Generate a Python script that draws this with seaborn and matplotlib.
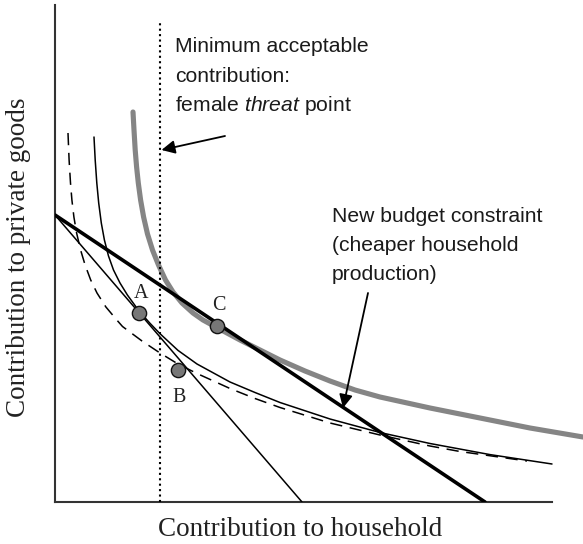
import matplotlib
matplotlib.use("Agg")
import matplotlib.pyplot as plt
import seaborn as sns

# ---- data (in arbitrary units) ----
# thick gray indifference curve (after cheaper household production)
gray_x = [1.56, 1.58, 1.604, 1.632, 1.666, 1.712, 1.772, 1.85, 1.95, 2.07, 2.21, 2.36,
          2.54, 2.76, 2.96, 3.18, 3.70, 4.10, 4.50, 5.00, 5.50, 6.00, 6.50, 7.50, 8.50,
          9.50, 10.56]
gray_y = [7.80, 7.44, 7.04, 6.70, 6.38, 6.04, 5.70, 5.36, 5.04, 4.74, 4.44, 4.20,
          3.98, 3.78, 3.64, 3.52, 3.24, 3.04, 2.84, 2.62, 2.42, 2.24, 2.10, 1.88, 1.68,
          1.48, 1.30]
# thin solid indifference curve
thin_x = [0.78, 0.804, 0.836, 0.874, 0.926, 0.988, 1.07, 1.17, 1.30, 1.448, 1.68, 1.90,
          2.10, 2.46, 2.84, 3.50, 4.00, 4.50, 5.50, 6.50, 7.50, 8.70, 9.94]
thin_y = [7.30, 6.84, 6.38, 5.98, 5.58, 5.24, 4.92, 4.64, 4.38, 4.14, 3.82, 3.574,
          3.366, 3.032, 2.76, 2.40, 2.19, 1.99, 1.66, 1.39, 1.17, 0.948, 0.76]
# dashed indifference curve
dash_x = [0.26, 0.282, 0.31, 0.338, 0.378, 0.432, 0.512, 0.602, 0.714, 0.84, 1.018, 1.236,
          1.35, 1.74, 2.10, 2.46, 2.84, 3.50, 4.00, 4.50, 5.50, 6.50, 7.50, 8.10, 9.44]
dash_y = [7.38, 6.84, 6.38, 6.04, 5.70, 5.38, 5.04, 4.74, 4.44, 4.18, 3.90, 3.64,
          3.51, 3.22, 2.98, 2.76, 2.57, 2.27, 2.07, 1.89, 1.58, 1.34, 1.12, 1.01, 0.82]
# budget constraints
old_budget_x = [0.0, 4.94]
old_budget_y = [5.74, 0.0]
new_budget_x = [0.0, 8.60]
new_budget_y = [5.74, 0.0]
# female threat point (minimum acceptable contribution)
threat_x = [2.10, 2.10]
threat_y = [0.0, 9.60]
# equilibrium points
point_labels = ["A", "B", "C"]
point_x = [1.68, 2.46, 3.24]
point_y = [3.78, 2.64, 3.52]

x_label = "Contribution to household"
y_label = "Contribution to private goods"

# ---- style ----
sns.set_theme(style="white")
plt.rcParams["font.family"] = ["Liberation Sans", "DejaVu Sans"]
plt.rcParams["mathtext.fontset"] = "custom"
plt.rcParams["mathtext.rm"] = "Liberation Sans"
plt.rcParams["mathtext.it"] = "Liberation Sans:italic"

fig = plt.figure(figsize=(5.83, 5.44), dpi=100)
ax = fig.add_axes([55 / 583, 42 / 544, 528 / 583, 497 / 544])

sns.lineplot(x=dash_x, y=dash_y, ax=ax, color="black", lw=1.1,
             linestyle=(0, (8, 5)), sort=False, estimator=None, zorder=2)
sns.lineplot(x=thin_x, y=thin_y, ax=ax, color="black", lw=1.1,
             sort=False, estimator=None, zorder=2)
sns.lineplot(x=gray_x, y=gray_y, ax=ax, color="#858585", lw=3.7,
             sort=False, estimator=None, zorder=3, clip_on=False)
sns.lineplot(x=old_budget_x, y=old_budget_y, ax=ax, color="black", lw=1.1,
             sort=False, estimator=None, zorder=4)
sns.lineplot(x=new_budget_x, y=new_budget_y, ax=ax, color="black", lw=2.6,
             sort=False, estimator=None, zorder=4)
sns.lineplot(x=threat_x, y=threat_y, ax=ax, color="black", lw=1.5,
             linestyle=(0, (1, 1.6)), sort=False, estimator=None, zorder=4)

sns.scatterplot(x=point_x, y=point_y, ax=ax, s=105, color="#777777",
                edgecolor="#111111", linewidth=1.0, zorder=6)

label_offsets = [(2, 20), (1, -28), (2, 21)]
for lab, px, py, off in zip(point_labels, point_x, point_y, label_offsets):
    ax.annotate(lab, (px, py), xytext=off, textcoords="offset pixels",
                ha="center", va="center", fontsize=14.5,
                family="Liberation Serif", color="#222222")

# annotations
txt_kw = dict(fontsize=15.2, color="#1a1a1a", ha="left", va="baseline")
ax.text(2.40, 9.00, "Minimum acceptable", **txt_kw)
ax.text(2.40, 8.40, "contribution:", **txt_kw)
ax.text(2.40, 7.82, r"female $\mathit{threat}$ point", **txt_kw)
ax.annotate("", xy=(2.13, 7.04), xytext=(3.40, 7.32),
            arrowprops=dict(arrowstyle="-|>", color="black", lw=1.3,
                            mutation_scale=20, shrinkA=0, shrinkB=0))

ax.text(5.54, 5.60, "New budget constraint", **txt_kw)
ax.text(5.54, 5.02, "(cheaper household", **txt_kw)
ax.text(5.54, 4.44, "production)", **txt_kw)
ax.annotate("", xy=(5.76, 1.88), xytext=(6.26, 4.18),
            arrowprops=dict(arrowstyle="-|>", color="black", lw=1.3,
                            mutation_scale=20, shrinkA=0, shrinkB=0))

# axes
ax.set_xlim(0, 10.56)
ax.set_ylim(0, 9.94)
ax.set_xticks([])
ax.set_yticks([])
for side in ["top", "right"]:
    ax.spines[side].set_visible(False)
for side in ["left", "bottom"]:
    ax.spines[side].set_color("#333333")
    ax.spines[side].set_linewidth(1.5)
ax.spines["bottom"].set_bounds(0, 9.94)

ax.set_xlabel(x_label, fontsize=19.5, family="Liberation Serif", color="#222222", va="center")
ax.set_ylabel(y_label, fontsize=19.5, family="Liberation Serif", color="#222222", va="center")
ax.xaxis.set_label_coords(0.464, -0.056)
ax.yaxis.set_label_coords(-0.070, 0.493)

fig.savefig("out.png", dpi=100)
